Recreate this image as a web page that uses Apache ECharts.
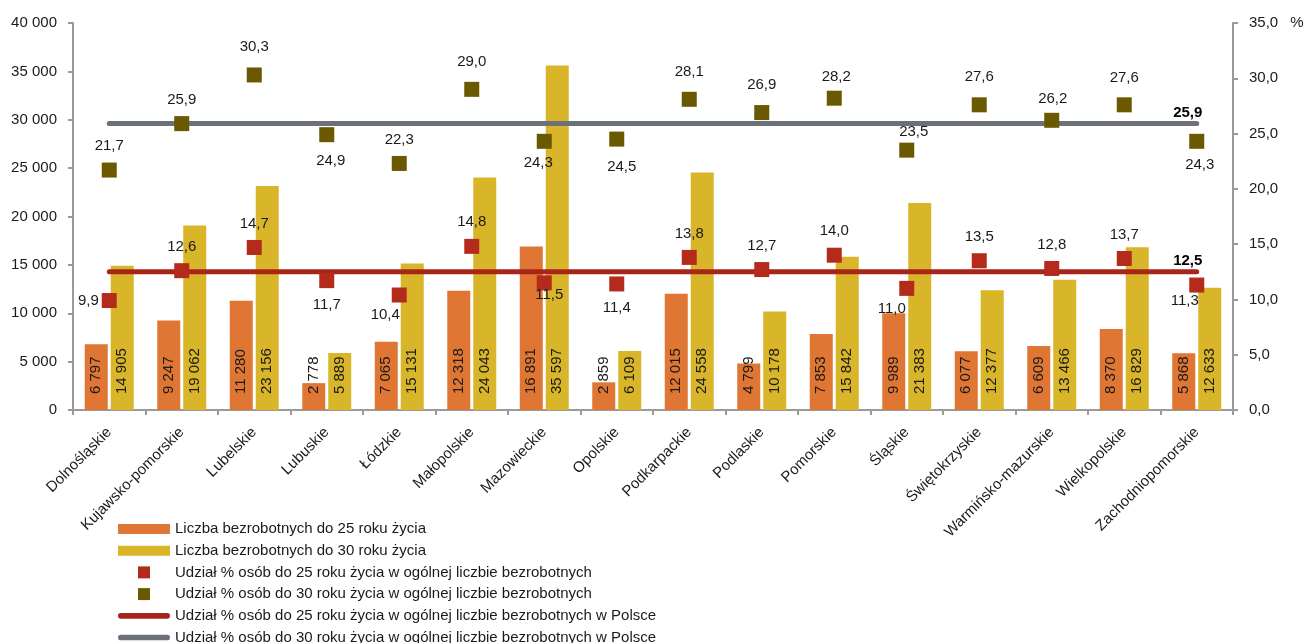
<!DOCTYPE html>
<html>
<head>
<meta charset="utf-8">
<script src="https://cdn.jsdelivr.net/npm/echarts@6/dist/echarts.min.js"></script>
<style>
html,body{margin:0;padding:0;background:#fff;}
#chart{width:1304px;height:643px;}
</style>
</head>
<body>
<div id="chart"></div>
<script>
// ---------- DATA ----------
const categories = ['Dolnośląskie','Kujawsko-pomorskie','Lubelskie','Lubuskie','Łódzkie','Małopolskie','Mazowieckie','Opolskie','Podkarpackie','Podlaskie','Pomorskie','Śląskie','Świętokrzyskie','Warmińsko-mazurskie','Wielkopolskie','Zachodniopomorskie'];
const unemployedUnder25 = [6797, 9247, 11280, 2778, 7065, 12318, 16891, 2859, 12015, 4799, 7853, 9989, 6077, 6609, 8370, 5868];
const unemployedUnder30 = [14905, 19062, 23156, 5889, 15131, 24043, 35597, 6109, 24558, 10178, 15842, 21383, 12377, 13466, 16829, 12633];
const shareUnder25 = [9.9, 12.6, 14.7, 11.7, 10.4, 14.8, 11.5, 11.4, 13.8, 12.7, 14.0, 11.0, 13.5, 12.8, 13.7, 11.3];
const shareUnder30 = [21.7, 25.9, 30.3, 24.9, 22.3, 29.0, 24.3, 24.5, 28.1, 26.9, 28.2, 23.5, 27.6, 26.2, 27.6, 24.3];
const polandShare25 = [12.5, 12.5, 12.5, 12.5, 12.5, 12.5, 12.5, 12.5, 12.5, 12.5, 12.5, 12.5, 12.5, 12.5, 12.5, 12.5];
const polandShare30 = [25.9, 25.9, 25.9, 25.9, 25.9, 25.9, 25.9, 25.9, 25.9, 25.9, 25.9, 25.9, 25.9, 25.9, 25.9, 25.9];
const leftTicks = {min: 0, max: 40000, interval: 5000};
const rightTicks = {min: 0, max: 35, interval: 5};
const seriesNames = [
  'Liczba bezrobotnych do 25 roku życia',
  'Liczba bezrobotnych do 30 roku życia',
  'Udział % osób do 25 roku życia w ogólnej liczbie bezrobotnych',
  'Udział % osób do 30 roku życia w ogólnej liczbie bezrobotnych',
  'Udział % osób do 25 roku życia w ogólnej liczbie bezrobotnych w Polsce',
  'Udział % osób do 30 roku życia w ogólnej liczbie bezrobotnych w Polsce'
];

// ---------- STYLE (label placement) ----------
const place25 = [
  {p:'left', d:3}, {p:'top'}, {p:'top'}, {p:'bottom'}, {p:'bottom', o:[-14,-4]}, {p:'top'},
  {p:'bottom', o:[5,-12]}, {p:'bottom'}, {p:'top'}, {p:'top'}, {p:'top'}, {p:'bottom', o:[-15,-4]},
  {p:'top'}, {p:'top'}, {p:'top'}, {p:'bottom', o:[-12,-8]}
];
const place30 = [
  {p:'top'}, {p:'top'}, {p:'top', o:[0,-4]}, {p:'bottom', o:[4,2]}, {p:'top'}, {p:'top', o:[0,-3]},
  {p:'bottom', o:[-6,-2]}, {p:'bottom', o:[5,4]}, {p:'top', o:[0,-3]}, {p:'top', o:[0,-4]}, {p:'top', o:[2,3]}, {p:'top', o:[7,6]},
  {p:'top', o:[0,-4]}, {p:'top', o:[1,3]}, {p:'top', o:[0,-3]}, {p:'bottom', o:[3,0]}
];

const FONT = "'Liberation Sans', Arial, sans-serif";
const FS = 15;
const TXT = '#1a1a1a';
const C = {
  orange: '#E07633', yellow: '#D9B52A', red: '#B42B1C', olive: '#6A5900',
  redLine: '#A8251A', grayLine: '#6C7078', axis: '#9a9a9a'
};

const fmtInt = v => String(v).replace(/\B(?=(\d{3})+(?!\d))/g, ' ');
const fmtDec = v => v.toFixed(1).replace('.', ',');

function scatterData(values, place) {
  return values.map((v, i) => {
    const pl = place[i];
    return {
      value: v,
      label: {position: pl.p, distance: pl.d !== undefined ? pl.d : 9, offset: pl.o || [0, 0]}
    };
  });
}

const endLabelStyle = {
  show: true, align: 'center', verticalAlign: 'bottom', distance: 0, offset: [-9, -3],
  fontFamily: FONT, fontSize: FS, fontWeight: 'bold', color: '#000',
  formatter: p => fmtDec(p.value)
};

const chart = echarts.init(document.getElementById('chart'), null, {renderer: 'canvas'});
const option = {
  animation: false,
  backgroundColor: '#fff',
  textStyle: {fontFamily: FONT, fontSize: FS, color: TXT},
  grid: {left: 73, right: 71, top: 23, bottom: 233, containLabel: false, outerBoundsMode: 'none'},
  legend: {
    orient: 'vertical',
    left: 118, top: 521, height: 200, padding: 0,
    itemWidth: 52, itemHeight: 12, itemGap: 5.7,
    textStyle: {fontFamily: FONT, fontSize: FS, color: TXT, lineHeight: 16},
    data: [
      {name: seriesNames[0], icon: 'path://M0,0h52v10h-52z'},
      {name: seriesNames[1], icon: 'path://M0,0h52v10h-52z'},
      {name: seriesNames[2], icon: 'path://M0,0h12v12h-12z'},
      {name: seriesNames[3], icon: 'path://M0,0h12v12h-12z'},
      {name: seriesNames[4], icon: 'path://M3,0h49a3,3 0 0 1 0,6h-49a3,3 0 0 1 0,-6z'},
      {name: seriesNames[5], icon: 'path://M3,0h49a3,3 0 0 1 0,6h-49a3,3 0 0 1 0,-6z'}
    ]
  },
  xAxis: {
    type: 'category',
    data: categories,
    boundaryGap: true,
    axisLine: {lineStyle: {color: C.axis, width: 2}},
    axisTick: {show: true, length: 5, lineStyle: {color: C.axis, width: 2}},
    axisLabel: {rotate: 45, margin: 20, interval: 0, fontFamily: FONT, fontSize: 15, color: TXT}
  },
  yAxis: [
    {
      type: 'value', min: leftTicks.min, max: leftTicks.max, interval: leftTicks.interval,
      axisLine: {show: true, lineStyle: {color: C.axis, width: 2}},
      axisTick: {show: true, length: 5, lineStyle: {color: C.axis, width: 2}},
      splitLine: {show: false},
      axisLabel: {margin: 16, fontFamily: FONT, fontSize: FS, color: TXT, formatter: v => fmtInt(v)}
    },
    {
      type: 'value', min: rightTicks.min, max: rightTicks.max, interval: rightTicks.interval,
      position: 'right',
      axisLine: {show: true, lineStyle: {color: C.axis, width: 2}},
      axisTick: {show: true, length: 5, lineStyle: {color: C.axis, width: 2}},
      splitLine: {show: false},
      axisLabel: {
        margin: 16, fontFamily: FONT, fontSize: FS, color: TXT,
        formatter: v => v === rightTicks.max ? '{a|' + fmtDec(v) + '}{p|%}' : fmtDec(v),
        rich: {a: {fontFamily: FONT, fontSize: FS, color: TXT}, p: {fontFamily: FONT, fontSize: FS, color: TXT, padding: [0, 0, 0, 12]}}
      }
    }
  ],
  series: [
    {
      name: seriesNames[0], type: 'bar', yAxisIndex: 0, data: unemployedUnder25,
      barWidth: 23, barGap: '13%', z: 2,
      itemStyle: {color: C.orange},
      label: {show: true, position: 'insideBottom', distance: 16, rotate: 90, align: 'left', verticalAlign: 'middle',
        fontFamily: FONT, fontSize: FS, color: TXT, formatter: p => fmtInt(p.value)}
    },
    {
      name: seriesNames[1], type: 'bar', yAxisIndex: 0, data: unemployedUnder30,
      barWidth: 23, barGap: '13%', z: 2,
      itemStyle: {color: C.yellow},
      label: {show: true, position: 'insideBottom', distance: 16, rotate: 90, align: 'left', verticalAlign: 'middle',
        fontFamily: FONT, fontSize: FS, color: TXT, formatter: p => fmtInt(p.value)}
    },
    {
      name: seriesNames[2], type: 'scatter', yAxisIndex: 1, z: 5,
      symbol: 'rect', symbolSize: 15,
      itemStyle: {color: C.red, opacity: 1},
      data: scatterData(shareUnder25, place25),
      label: {show: true, fontFamily: FONT, fontSize: FS, color: TXT, formatter: p => fmtDec(p.value)}
    },
    {
      name: seriesNames[3], type: 'scatter', yAxisIndex: 1, z: 5,
      symbol: 'rect', symbolSize: 15,
      itemStyle: {color: C.olive, opacity: 1},
      data: scatterData(shareUnder30, place30),
      label: {show: true, fontFamily: FONT, fontSize: FS, color: TXT, formatter: p => fmtDec(p.value)}
    },
    {
      name: seriesNames[4], type: 'line', yAxisIndex: 1, z: 4,
      data: polandShare25,
      showSymbol: false, symbol: 'none',
      itemStyle: {color: C.redLine},
      lineStyle: {color: C.redLine, width: 5, cap: 'round'},
      endLabel: endLabelStyle
    },
    {
      name: seriesNames[5], type: 'line', yAxisIndex: 1, z: 4,
      data: polandShare30,
      showSymbol: false, symbol: 'none',
      itemStyle: {color: C.grayLine},
      lineStyle: {color: C.grayLine, width: 5, cap: 'round'},
      endLabel: endLabelStyle
    }
  ]
};
chart.setOption(option);
</script>
</body>
</html>
